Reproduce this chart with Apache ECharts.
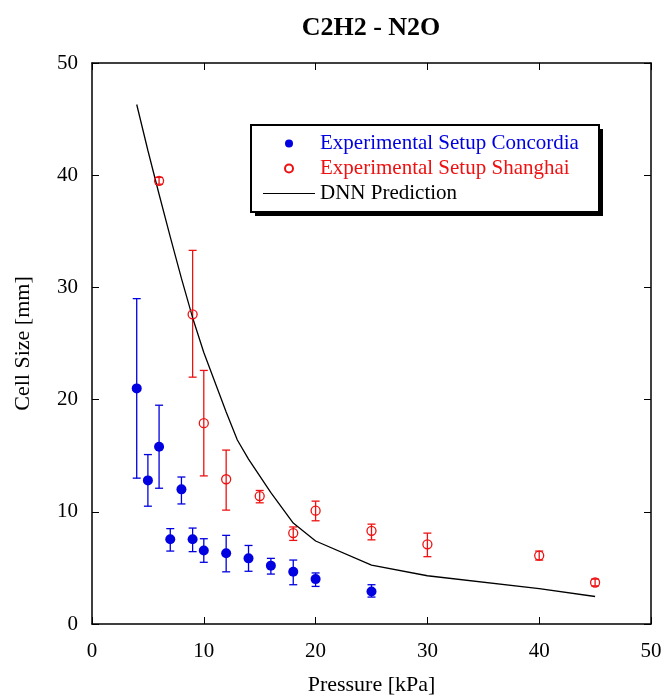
<!DOCTYPE html>
<html lang="en">
<head>
    <meta charset="UTF-8">
    <title>C2H2 - N2O</title>
    <script src="https://cdn.jsdelivr.net/npm/echarts@6/dist/echarts.min.js"></script>
    <style>
        html, body { margin: 0; padding: 0; background: #fff; }
        #chart { width: 664px; height: 696px; }
    </style>
</head>
<body>
<div id="chart"></div>
<script>
    // Concordia (filled blue)
    var concPressure = [4, 5, 6, 7, 8, 9, 10, 12, 14, 16, 18, 20, 25];
    var concSize = [21.0, 12.8, 15.8, 7.55, 12.0, 7.55, 6.55, 6.3, 5.85, 5.2, 4.65, 4.0, 2.9];
    var concLow = [13.0, 10.5, 12.1, 6.5, 10.7, 6.45, 5.5, 4.65, 4.7, 4.45, 3.5, 3.35, 2.4];
    var concHigh = [29.0, 15.1, 19.5, 8.5, 13.1, 8.55, 7.6, 7.9, 7.0, 5.85, 5.7, 4.55, 3.5];

    // Shanghai (open red)
    var shanPressure = [6, 9, 10, 12, 15, 18, 20, 25, 30, 40, 45];
    var shanSize = [39.5, 27.6, 17.9, 12.9, 11.4, 8.1, 10.1, 8.3, 7.1, 6.1, 3.7];
    var shanLow = [39.2, 22.0, 13.2, 10.15, 10.8, 7.45, 9.2, 7.5, 6.0, 5.7, 3.4];
    var shanHigh = [39.8, 33.3, 22.6, 15.5, 11.9, 8.65, 10.95, 8.9, 8.1, 6.5, 4.0];

    // DNN prediction curve
    var dnnPressure = [4, 5, 6, 7, 8, 9, 10, 12, 13, 14, 16, 18, 20, 25, 30, 40, 45];
    var dnnSize = [46.3, 42.2, 38.3, 34.5, 30.8, 27.3, 24.2, 18.9, 16.4, 14.7, 11.7, 9.0, 7.4, 5.25, 4.3, 3.15, 2.45];

    var xTicks = [0, 10, 20, 30, 40, 50];
    var yTicks = [0, 10, 20, 30, 40, 50];

    var BLUE = '#0000e0';
    var RED = '#ee1111';
    var FONT = 'Liberation Serif';

    function zip(a, b, c) {
        return a.map(function (v, i) { return c ? [v, b[i], c[i]] : [v, b[i]]; });
    }

    function errorBars(color) {
        return function (params, api) {
            var x = api.value(0);
            var lo = api.coord([x, api.value(1)]);
            var hi = api.coord([x, api.value(2)]);
            var w = 4;
            var st = { stroke: color, lineWidth: 1.3 };
            return {
                type: 'group',
                children: [
                    { type: 'line', shape: { x1: lo[0], y1: lo[1], x2: hi[0], y2: hi[1] }, style: st },
                    { type: 'line', shape: { x1: lo[0] - w, y1: lo[1], x2: lo[0] + w, y2: lo[1] }, style: st },
                    { type: 'line', shape: { x1: hi[0] - w, y1: hi[1], x2: hi[0] + w, y2: hi[1] }, style: st }
                ]
            };
        };
    }

    var axisCommon = {
        type: 'value',
        min: 0,
        max: 50,
        interval: 10,
        splitLine: { show: false },
        axisLine: { onZero: false, lineStyle: { color: '#000', width: 1.5 } },
        axisTick: { inside: true, length: 7, lineStyle: { color: '#000', width: 1 } }
    };

    var chart = echarts.init(document.getElementById('chart'));
    var option = {
        animation: false,
        backgroundColor: '#fff',
        title: {
            text: 'C2H2 - N2O',
            left: 366,
            top: 10,
            textAlign: 'center',
            textStyle: { fontFamily: FONT, fontSize: 26, fontWeight: 'bold', color: '#000' }
        },
        grid: { left: 92, right: 13, top: 63, bottom: 72, outerBoundsMode: 'none', containLabel: false },
        // legend frame with hard drop shadow
        graphic: [
            { type: 'rect', z: 1, shape: { x: 255, y: 129, width: 348, height: 87 }, style: { fill: '#000' } },
            { type: 'rect', z: 2, shape: { x: 251, y: 125, width: 348, height: 87 }, style: { fill: '#fff', stroke: '#000', lineWidth: 2 } }
        ],
        legend: {
            left: 251,
            top: 125,
            orient: 'vertical',
            itemWidth: 52,
            itemHeight: 8,
            itemGap: 4,
            padding: [8, 10, 8, 12],
            textStyle: { fontFamily: FONT, fontSize: 21 },
            data: [
                { name: 'Experimental Setup Concordia', icon: 'circle', textStyle: { color: BLUE } },
                { name: 'Experimental Setup Shanghai', icon: 'circle', textStyle: { color: RED } },
                { name: 'DNN Prediction', icon: 'path://M0,0L52,0L52,1.2L0,1.2Z', itemStyle: { color: '#000' }, textStyle: { color: '#000' } }
            ]
        },
        xAxis: [
            Object.assign({}, axisCommon, {
                position: 'bottom',
                name: 'Pressure [kPa]',
                nameLocation: 'middle',
                nameGap: 50,
                nameTextStyle: { fontFamily: FONT, fontSize: 22, color: '#000' },
                axisLabel: {
                    margin: 17, fontFamily: FONT, fontSize: 21, color: '#000',
                    formatter: function (v) { return xTicks.indexOf(v) >= 0 ? String(v) : ''; }
                }
            }),
            Object.assign({}, axisCommon, { position: 'top', axisLabel: { show: false } })
        ],
        yAxis: [
            Object.assign({}, axisCommon, {
                position: 'left',
                name: 'Cell Size [mm]',
                nameLocation: 'middle',
                nameGap: 58,
                nameTextStyle: { fontFamily: FONT, fontSize: 22, color: '#000' },
                axisLabel: {
                    margin: 14, fontFamily: FONT, fontSize: 21, color: '#000',
                    formatter: function (v) { return yTicks.indexOf(v) >= 0 ? String(v) : ''; }
                }
            }),
            Object.assign({}, axisCommon, { position: 'right', axisLabel: { show: false } })
        ],
        series: [
            {
                name: 'concErr',
                type: 'custom',
                renderItem: errorBars(BLUE),
                encode: { x: 0, y: [1, 2] },
                data: zip(concPressure, concLow, concHigh),
                z: 2
            },
            {
                name: 'shanErr',
                type: 'custom',
                renderItem: errorBars(RED),
                encode: { x: 0, y: [1, 2] },
                data: zip(shanPressure, shanLow, shanHigh),
                z: 2
            },
            {
                name: 'DNN Prediction',
                type: 'line',
                symbol: 'none',
                lineStyle: { color: '#000', width: 1.3 },
                itemStyle: { color: '#000' },
                data: zip(dnnPressure, dnnSize),
                z: 3
            },
            {
                name: 'Experimental Setup Concordia',
                type: 'scatter',
                symbol: 'circle',
                symbolSize: 10,
                itemStyle: { color: BLUE, opacity: 1 },
                data: zip(concPressure, concSize),
                z: 4
            },
            {
                name: 'Experimental Setup Shanghai',
                type: 'scatter',
                symbol: 'circle',
                symbolSize: 9,
                itemStyle: { color: 'rgba(255,255,255,0)', borderColor: RED, borderWidth: 1.3, opacity: 1 },
                data: zip(shanPressure, shanSize),
                z: 4
            }
        ]
    };
    chart.setOption(option);
</script>
</body>
</html>
